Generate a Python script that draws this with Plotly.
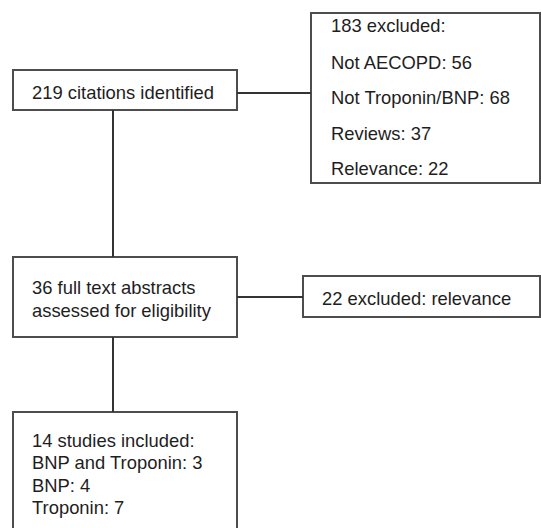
import plotly.graph_objects as go

# Flow-chart content (text of each box)
box_names = ["identified", "excluded_1", "assessed", "excluded_2", "included"]
box_lines = [
    ["219 citations identified"],
    ["183 excluded:", "Not AECOPD: 56", "Not Troponin/BNP: 68", "Reviews: 37", "Relevance: 22"],
    ["36 full text abstracts", "assessed for eligibility"],
    ["22 excluded: relevance"],
    ["14 studies included:", "BNP and Troponin: 3", "BNP: 4", "Troponin: 7"],
]

# Layout geometry (pixel space of the window, y downward)
box_rects = [
    (13, 70, 237, 110),
    (311, 13, 540, 183),
    (13, 257, 237, 337),
    (303, 276, 540, 317),
    (13, 412, 237, 540),
]
text_x = [30, 329, 30, 320, 30]
text_y = [
    [92],
    [25, 62, 97, 133, 168],
    [287, 310],
    [298],
    [440, 462, 485, 507],
]
connectors = [
    ((237, 93), (311, 93)),
    ((113, 110), (113, 257)),
    ((237, 297), (303, 297)),
    ((113, 337), (113, 412)),
]

W, H = 541, 528

fig = go.Figure()
shapes = []
for (x0, y0, x1, y1) in box_rects:
    shapes.append(dict(type="rect", xref="x", yref="y", x0=x0, y0=y0, x1=x1, y1=y1,
                       line=dict(color="#4d4d4d", width=2), fillcolor="white", layer="below"))
for (a, b) in connectors:
    shapes.append(dict(type="line", xref="x", yref="y", x0=a[0], y0=a[1], x1=b[0], y1=b[1],
                       line=dict(color="#333333", width=2)))

annotations = []
for lines, tx, tys in zip(box_lines, text_x, text_y):
    for line, ty in zip(lines, tys):
        annotations.append(dict(x=tx, y=ty, xref="x", yref="y", text=line, showarrow=False,
                                xanchor="left", yanchor="middle",
                                font=dict(family="Liberation Sans, Arial, sans-serif",
                                          size=18.4, color="#1e1e1e")))

fig.update_layout(
    width=W, height=H,
    margin=dict(l=0, r=0, t=0, b=0),
    paper_bgcolor="white", plot_bgcolor="white",
    shapes=shapes, annotations=annotations,
    showlegend=False,
    xaxis=dict(range=[0, W], visible=False, fixedrange=True),
    yaxis=dict(range=[H, 0], visible=False, fixedrange=True),
)
fig.write_html(
    "out.html",
    config={"displayModeBar": False, "staticPlot": True},
    post_script="document.body.style.margin='0';document.body.style.overflow='hidden';",
)
